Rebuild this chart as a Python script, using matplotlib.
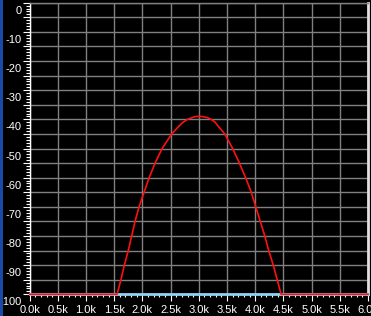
import matplotlib
matplotlib.use("Agg")
import matplotlib.pyplot as plt
import matplotlib.transforms as mtransforms
from matplotlib.patches import Rectangle

# values (frequency in kHz, level in dB)
freq_k = [0.0, 1.55, 1.62, 1.68, 1.75, 1.81, 1.87, 1.94, 2.03, 2.12, 2.225,
          2.35, 2.52, 2.64, 2.72, 2.80, 2.88, 2.95, 3.05, 3.15, 3.22, 3.29,
          3.35, 3.46, 3.60, 3.72, 3.83, 3.93, 4.01, 4.09, 4.17, 4.24, 4.32,
          4.39, 4.46, 6.0]
level_db = [-100, -100, -95, -90, -85, -80, -75, -70, -65, -60, -55,
            -50, -45, -42.5, -41, -40, -39.4, -39, -39, -39.4, -40, -41,
            -42.5, -45, -50, -55, -60, -65, -70, -75, -80, -85, -90,
            -95, -100, -100]

x_ticks = [0.0, 0.5, 1.0, 1.5, 2.0, 2.5, 3.0, 3.5, 4.0, 4.5, 5.0, 5.5, 6.0]
x_labels = ["0.0k", "0.5k", "1.0k", "1.5k", "2.0k", "2.5k", "3.0k",
            "3.5k", "4.0k", "4.5k", "5.0k", "5.5k", "6.0k"]
y_ticks = [0, -5, -10, -15, -20, -25, -30, -35, -40, -45, -50,
           -55, -60, -65, -70, -75, -80, -85, -90, -95, -100]
y_labels = ["0", "", "-10", "", "-20", "", "-30", "", "-40", "", "-50",
            "", "-60", "", "-70", "", "-80", "", "-90", "", "-100"]

W, H = 371, 316
fig = plt.figure(figsize=(W / 100, H / 100), dpi=100, facecolor="black")
ax = fig.add_axes([29.6 / W, (H - 294.3) / H, (368 - 29.6) / W, (294.3 - 2.7) / H])
ax.set_facecolor("black")

ax.plot(freq_k, level_db, color="#ff1010", lw=1.2, zorder=4, clip_on=False)

ax.set_xlim(0, 6.0)
ax.set_ylim(-100, 0)
ax.set_xticks(x_ticks)
ax.set_xticklabels(x_labels)
ax.set_xticks([i / 10 for i in range(61)], minor=True)
ax.set_yticks(y_ticks)
ax.set_yticklabels(y_labels)
ax.set_yticks(list(range(0, -101, -1)), minor=True)

ax.grid(True, which="major", color="#808080", lw=1.0)
ax.set_axisbelow(True)

ax.tick_params(axis="both", which="both", colors="white", labelcolor="white",
               labelsize=8, width=0.8)
ax.tick_params(axis="y", which="major", length=5, pad=1)
ax.tick_params(axis="y", which="minor", length=3)
ax.tick_params(axis="x", which="major", length=5, pad=2.5)
ax.tick_params(axis="x", which="minor", length=2)
for lab in ax.get_xticklabels() + ax.get_yticklabels():
    lab.set_family("Liberation Sans")

# y labels sit a little below their ticks
offset = mtransforms.ScaledTranslation(0, -7 / 100, fig.dpi_scale_trans)
for lab in ax.get_yticklabels():
    lab.set_transform(lab.get_transform() + offset)

ax.spines["left"].set_color("white")
ax.spines["left"].set_linewidth(1.0)
ax.spines["bottom"].set_color("#8fd0f5")
ax.spines["bottom"].set_linewidth(2.0)
ax.spines["top"].set_color("#808080")
ax.spines["top"].set_linewidth(1.0)
ax.spines["right"].set_color("#e0e0e0")
ax.spines["right"].set_linewidth(2.0)

# window border strip on the left
fig.patches.append(Rectangle((0, 0), 3 / W, 1, transform=fig.transFigure,
                             facecolor="#1a4aa8", edgecolor="none"))

fig.savefig("out.png", dpi=100, facecolor="black")
